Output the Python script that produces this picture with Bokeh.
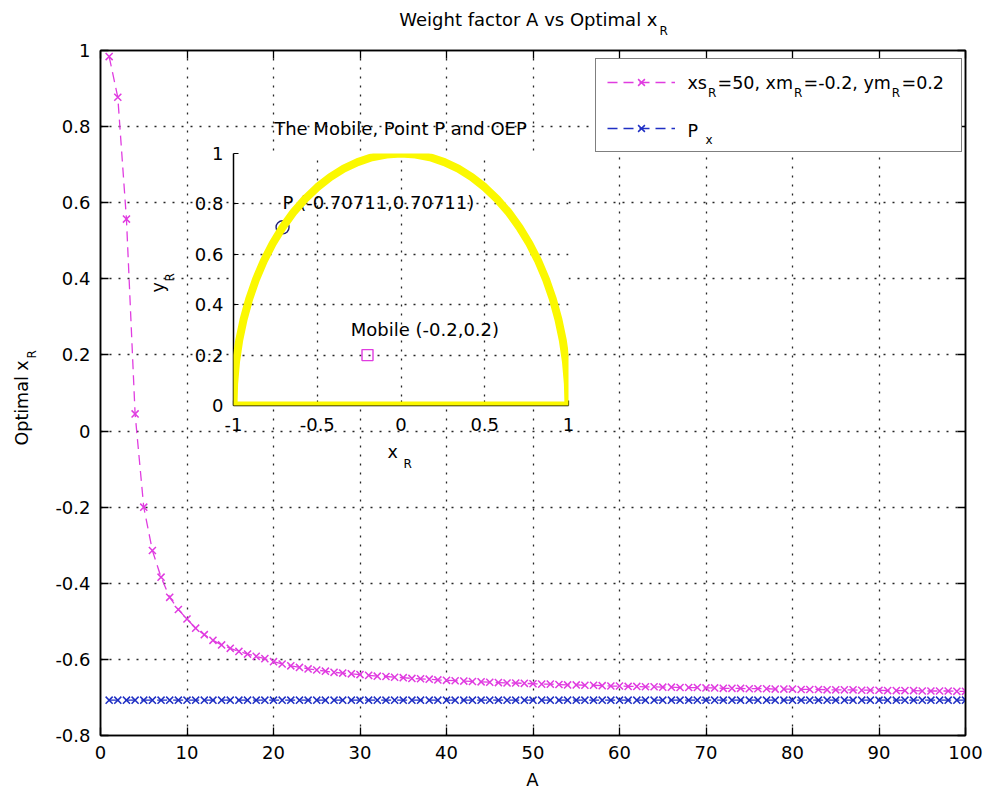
import math
from bokeh.plotting import figure
from bokeh.models import (FixedTicker, CustomJSTickFormatter, LinearAxis, Label,
                          Legend, LegendItem, GridBox, PolyAnnotation, Range1d)
from bokeh.embed import file_html
from bokeh.resources import INLINE

# ---------------- data ----------------
A_values = list(range(1, 101))
xR_optimal = [
    0.984, 0.877, 0.557, 0.045, -0.200, -0.314, -0.384, -0.437, -0.469, -0.494,
    -0.518, -0.535, -0.550, -0.562, -0.571, -0.579, -0.586, -0.592, -0.598, -0.606,
    -0.612, -0.617, -0.621, -0.625, -0.628, -0.631, -0.634, -0.636, -0.638, -0.640,
    -0.642, -0.644, -0.645, -0.647, -0.648, -0.650, -0.651, -0.652, -0.654, -0.655,
    -0.656, -0.657, -0.658, -0.659, -0.660, -0.661, -0.662, -0.662, -0.663, -0.664,
    -0.665, -0.665, -0.666, -0.667, -0.667, -0.668, -0.668, -0.669, -0.670, -0.670,
    -0.671, -0.671, -0.672, -0.672, -0.673, -0.673, -0.674, -0.674, -0.674, -0.675,
    -0.675, -0.676, -0.676, -0.676, -0.677, -0.677, -0.677, -0.678, -0.678, -0.678,
    -0.679, -0.679, -0.679, -0.680, -0.680, -0.680, -0.680, -0.681, -0.681, -0.681,
    -0.682, -0.682, -0.682, -0.682, -0.683, -0.683, -0.683, -0.683, -0.684, -0.684,
]
P_x_values = [-0.70711] * 100

x_ticks = [0, 10, 20, 30, 40, 50, 60, 70, 80, 90, 100]
y_ticks = [-0.8, -0.6, -0.4, -0.2, 0, 0.2, 0.4, 0.6, 0.8, 1]

# inset: OEP boundary (unit semicircle + base), point P, mobile
oep_x = [1.0, 0.9962, 0.9848, 0.9659, 0.9397, 0.9063, 0.866, 0.8192, 0.766, 0.7071,
         0.6428, 0.5736, 0.5, 0.4226, 0.342, 0.2588, 0.1736, 0.0872, 0.0, -0.0872,
         -0.1736, -0.2588, -0.342, -0.4226, -0.5, -0.5736, -0.6428, -0.7071, -0.766,
         -0.8192, -0.866, -0.9063, -0.9397, -0.9659, -0.9848, -0.9962, -1.0]
oep_y = [0.0, 0.0872, 0.1736, 0.2588, 0.342, 0.4226, 0.5, 0.5736, 0.6428, 0.7071,
         0.766, 0.8192, 0.866, 0.9063, 0.9397, 0.9659, 0.9848, 0.9962, 1.0, 0.9962,
         0.9848, 0.9659, 0.9397, 0.9063, 0.866, 0.8192, 0.766, 0.7071, 0.6428,
         0.5736, 0.5, 0.4226, 0.342, 0.2588, 0.1736, 0.0872, 0.0]
P_point = ([-0.70711], [0.70711])
mobile_point = ([-0.2], [0.2])
inset_x_ticks = [-1, -0.5, 0, 0.5, 1]
inset_y_ticks = [0, 0.2, 0.4, 0.6, 0.8, 1]

# ---------------- style ----------------
FONT = "DejaVu Sans"
MAG = "#e03ce0"
BLU = "#1f2fc4"
NAVY = "#202078"
YEL = "#fbf800"
fmt = CustomJSTickFormatter(code="return (Math.round(tick*100)/100).toString();")

# ---------------- main figure ----------------
p = figure(frame_width=865, frame_height=685,
           min_border_left=100, min_border_right=22, min_border_top=50, min_border_bottom=58,
           x_range=Range1d(0, 100), y_range=Range1d(-0.8, 1),
           output_backend="svg", toolbar_location=None,
           background_fill_color="white", border_fill_color="white",
           outline_line_color="black", outline_line_width=1.5)


def style_axis(ax, ticker, show_labels):
    ax.ticker = ticker
    ax.formatter = fmt
    ax.axis_line_color = "black"
    ax.axis_line_width = 1.5
    ax.major_tick_in = 8
    ax.major_tick_out = 0
    ax.major_tick_line_width = 1.3
    ax.minor_tick_line_color = None
    ax.major_label_text_font = FONT
    ax.major_label_text_color = "black"
    ax.major_label_text_font_size = "18px"
    ax.major_label_standoff = 10
    if not show_labels:
        ax.major_label_text_color = None
        ax.major_label_standoff = 0


xt = FixedTicker(ticks=x_ticks)
yt = FixedTicker(ticks=y_ticks)
style_axis(p.below[0], xt, True)
style_axis(p.left[0], yt, True)
top_ax = LinearAxis()
right_ax = LinearAxis()
style_axis(top_ax, FixedTicker(ticks=x_ticks), False)
style_axis(right_ax, FixedTicker(ticks=y_ticks), False)
p.add_layout(top_ax, "above")
p.add_layout(right_ax, "right")

for g in (p.xgrid, p.ygrid):
    g.grid_line_color = "black"
    g.grid_line_dash = "2 7"
    g.grid_line_width = 1.3
    g.grid_line_alpha = 0.85
p.xgrid.ticker = xt
p.ygrid.ticker = yt

r1l = p.line(A_values, xR_optimal, line_color=MAG, line_width=1.3, line_dash="10 6")
r1s = p.scatter(A_values, xR_optimal, marker="x", size=10, line_color=MAG, line_width=1.5)
r2l = p.line(A_values, P_x_values, line_color=BLU, line_width=1.3, line_dash="10 6")
r2s = p.scatter(A_values, P_x_values, marker="x", size=10, line_color=BLU, line_width=1.5)

legend = Legend(items=[LegendItem(label=" ", renderers=[r1l, r1s]),
                       LegendItem(label=" ", renderers=[r2l, r2s])],
                location=(495, 583), orientation="vertical",
                glyph_width=68, glyph_height=24, label_width=262, label_height=24,
                label_standoff=13, padding=11, spacing=22, margin=0,
                border_line_color="black", border_line_width=1.3,
                background_fill_color="white", background_fill_alpha=1.0,
                label_text_font_size="10px")
p.add_layout(legend, "center")

# ---------------- inset figure ----------------
inset = figure(frame_width=335, frame_height=252,
               min_border_left=83, min_border_right=20, min_border_top=45, min_border_bottom=65,
               x_range=Range1d(-1, 1), y_range=Range1d(0, 1),
               output_backend="svg", toolbar_location=None,
               background_fill_color="white", border_fill_alpha=0.0,
               outline_line_color=None)
for ax, tk in ((inset.below[0], inset_x_ticks), (inset.left[0], inset_y_ticks)):
    ax.ticker = FixedTicker(ticks=tk)
    ax.formatter = fmt
    ax.axis_line_color = "black"
    ax.axis_line_width = 1.5
    ax.major_tick_in = 5
    ax.major_tick_out = 0
    ax.major_tick_line_width = 1.2
    ax.minor_tick_line_color = None
    ax.major_label_text_font = FONT
    ax.major_label_text_color = "black"
    ax.major_label_text_font_size = "18px"
inset.below[0].major_label_standoff = 12
inset.left[0].major_label_standoff = 10
for g in (inset.xgrid, inset.ygrid):
    g.grid_line_color = "black"
    g.grid_line_dash = "2 7"
    g.grid_line_width = 1.3
    g.grid_line_alpha = 0.85
inset.xgrid.ticker = FixedTicker(ticks=inset_x_ticks)
inset.ygrid.ticker = FixedTicker(ticks=inset_y_ticks)

inset.add_layout(PolyAnnotation(xs=oep_x, ys=oep_y, line_color=YEL, line_alpha=1.0,
                                line_width=8, line_join="round", fill_alpha=0.0,
                                level="overlay"))
inset.scatter(P_point[0], P_point[1], marker="circle", size=13, fill_color=None,
              line_color=NAVY, line_width=1.4)
inset.scatter(mobile_point[0], mobile_point[1], marker="square", size=11, fill_color=None,
              line_color=MAG, line_width=1.4)

inset.add_layout(Label(x=P_point[0][0], y=P_point[1][0] + 0.1,
                       text="P (-0.70711,0.70711)", text_font=FONT, text_font_size="18px",
                       text_align="left", text_baseline="middle", text_color="black"))
inset.add_layout(Label(x=mobile_point[0][0] - 0.1, y=mobile_point[1][0] + 0.1,
                       text="Mobile (-0.2,0.2)", text_font=FONT, text_font_size="18px",
                       text_align="left", text_baseline="middle", text_color="black"))

# ---------------- transparent text layer (page pixels, y down) ----------------
txt = figure(frame_width=987, frame_height=793, min_border=0,
             min_border_left=0, min_border_right=0, min_border_top=0, min_border_bottom=0,
             x_range=Range1d(0, 987), y_range=Range1d(793, 0),
             x_axis_type=None, y_axis_type=None,
             output_backend="svg", toolbar_location=None,
             outline_line_color=None, background_fill_alpha=0.0, border_fill_alpha=0.0)
txt.xgrid.visible = False
txt.ygrid.visible = False


def tlabel(text, px, py, size, align="left", angle=0.0):
    # alphabetic baseline is drawn ~1/3 em lower by the renderer: compensate
    shift = 0.33 * size
    if angle:
        px -= shift
    else:
        py -= shift
    txt.add_layout(Label(x=px, y=py, text=text, text_font=FONT,
                         text_font_size=f"{size}px", text_color="black",
                         text_align=align, text_baseline="alphabetic", angle=angle))


# main title with subscript
tlabel("Weight factor A vs Optimal x", 657, 25, 18, align="right")
tlabel("R", 659, 34, 12)
# main axis labels
tlabel("A", 532, 785, 18, align="center")
tlabel("Optimal x", 27, 445, 17.5, angle=math.pi / 2)
tlabel("R", 35, 358, 12, angle=math.pi / 2)
# legend texts
tlabel("xs", 687, 88, 17.5)
tlabel("R", 707.5, 96, 12)
tlabel("=50, xm", 717, 88, 17.5)
tlabel("R", 793.5, 96, 12)
tlabel("=-0.2, ym", 803, 88, 17.5)
tlabel("R", 891.3, 96, 12)
tlabel("=0.2", 901, 88, 17.5)
tlabel("P", 687, 136, 17.5)
tlabel("x", 705, 143, 12)
# inset title and axis labels
tlabel("The Mobile, Point P and OEP", 400, 134, 18, align="center")
tlabel("x", 387, 457, 17.5)
tlabel("R", 403, 467, 12)
tlabel("y", 163, 292, 17.5, angle=math.pi / 2)
tlabel("R", 173, 281, 12, angle=math.pi / 2)

# ---------------- overlay layout ----------------
# zero-size outer tracks keep the text layer from sharing grid lines with the plots
grid = GridBox(children=[(p, 1, 1, 3, 3), (inset, 2, 2, 1, 1), (txt, 0, 0, 5, 5)],
               rows=["0px", "108px", "362px", "323px", "0px"],
               cols=["0px", "150px", "438px", "399px", "0px"],
               spacing=0)

open("out.html", "w").write(file_html(grid, INLINE))
